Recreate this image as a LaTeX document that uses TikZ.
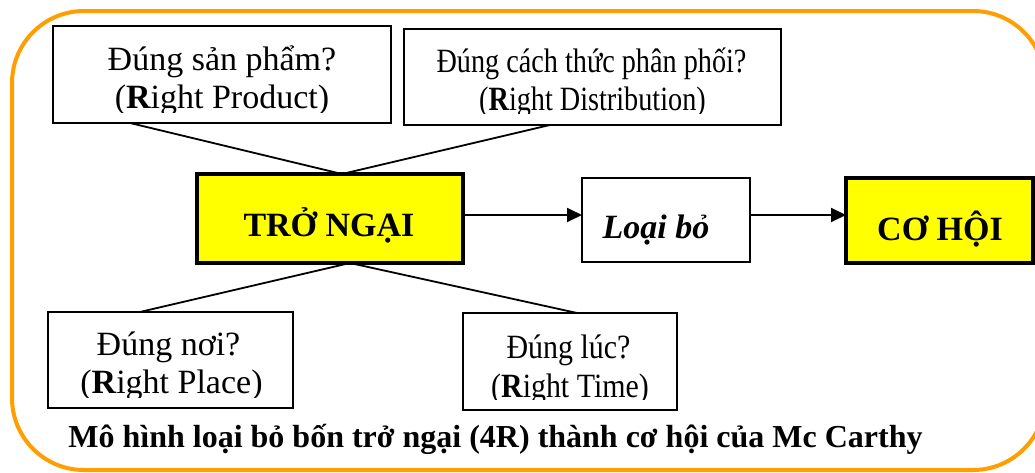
\documentclass[tikz,border=0pt]{standalone}
\usepackage{fontspec}
\setmainfont{Liberation Serif}
\usepackage{graphicx}
\usetikzlibrary{calc,arrows.meta}
\definecolor{frameorange}{RGB}{255,158,0}
\definecolor{boxyellow}{RGB}{255,255,0}
\begin{document}
\begin{tikzpicture}[x=1pt,y=-1pt,
  thinbox/.style={draw=black,line width=2pt,fill=white,inner sep=0pt,outer sep=0pt},
  thickbox/.style={draw=black,line width=4pt,fill=boxyellow,inner sep=0pt,outer sep=0pt},
  txt/.style={anchor=base,inner sep=0pt,font=\fontsize{34}{38}\selectfont},
  btxt/.style={anchor=base,inner sep=0pt,font=\fontsize{34}{38}\selectfont\bfseries},
  link/.style={line width=1.8pt},
  arr/.style={line width=1.8pt,-{Triangle[length=15pt,width=14pt]}}]
\useasboundingbox (0,0) rectangle (1035,472);
\clip (0,0) rectangle (1035,472);
\draw[frameorange,line width=4pt,rounded corners=72pt] (12,11) rectangle (1045,470);

% top boxes
\node[thinbox,minimum width=338pt,minimum height=97pt] (p1) at (222,74.5) {};
\begin{scope}
  \clip (53,26) rectangle (391,112);
  \node[txt] (p1a) at (222,70) {Đúng sản phẩm?};
  \node[txt] (p1b) at (222,108) {({\bfseries R}ight Product)};
\end{scope}
\node[thinbox,minimum width=377pt,minimum height=96pt] (p2) at (592.5,77) {};
\begin{scope}
  \clip (404,29) rectangle (781,113);
  \node[txt] (p2a) at (591.5,72) {\scalebox{0.83}[1]{Đúng cách thức phân phối?}};
  \node[txt] (p2b) at (592.5,110) {\scalebox{0.83}[1]{({\bfseries R}ight Distribution)}};
\end{scope}

% middle row
\node[thickbox,minimum width=266pt,minimum height=89pt] (tn) at (330,218.5) {};
\node[btxt] (tnt) at (329,236) {TRỞ NGẠI};
\node[thinbox,minimum width=168pt,minimum height=84pt] (lb) at (666,220) {};
\node[btxt,font=\fontsize{34}{38}\selectfont\bfseries\itshape] (lbt) at (656,238) {Loại bỏ};
\node[thickbox,minimum width=187pt,minimum height=85pt] (ch) at (939.5,220.5) {};
\node[btxt] (cht) at (940,240) {CƠ HỘI};

% bottom boxes
\node[thinbox,minimum width=245pt,minimum height=96pt] (p3) at (170.5,360) {};
\begin{scope}
  \clip (48,312) rectangle (293,397);
  \node[txt] (p3a) at (168.5,355) {Đúng nơi?};
  \node[txt] (p3b) at (171.5,393) {({\bfseries R}ight Place)};
\end{scope}
\node[thinbox,minimum width=214pt,minimum height=97pt] (p4) at (570,361.5) {};
\begin{scope}
  \clip (463,313) rectangle (677,399);
  \node[txt] (p4a) at (568.5,358) {\scalebox{0.88}[1]{Đúng lúc?}};
  \node[txt] (p4b) at (570,397) {\scalebox{0.88}[1]{({\bfseries R}ight Time)}};
\end{scope}

% connectors
\draw[link] ($(p1.south west)!0.228!(p1.south east)$) -- ($(tn.north west)!0.545!(tn.north east)$);
\draw[link] ($(p2.south west)!0.387!(p2.south east)$) -- ($(tn.north west)!0.545!(tn.north east)$);
\draw[link] ($(tn.south west)!0.575!(tn.south east)$) -- ($(p3.north west)!0.375!(p3.north east)$);
\draw[link] ($(tn.south west)!0.575!(tn.south east)$) -- ($(p4.north west)!0.533!(p4.north east)$);
\draw[arr] (tn.east |- 0,215) -- (lb.west |- 0,215);
\draw[arr] (lb.east |- 0,215) -- (ch.west |- 0,215);

% caption
\node[anchor=base,inner sep=0pt,font=\fontsize{32}{36}\selectfont\bfseries] (cap) at (495.5,447)
  {Mô hình loại bỏ bốn trở ngại (4R) thành cơ hội của Mc Carthy};
\end{tikzpicture}
\end{document}
